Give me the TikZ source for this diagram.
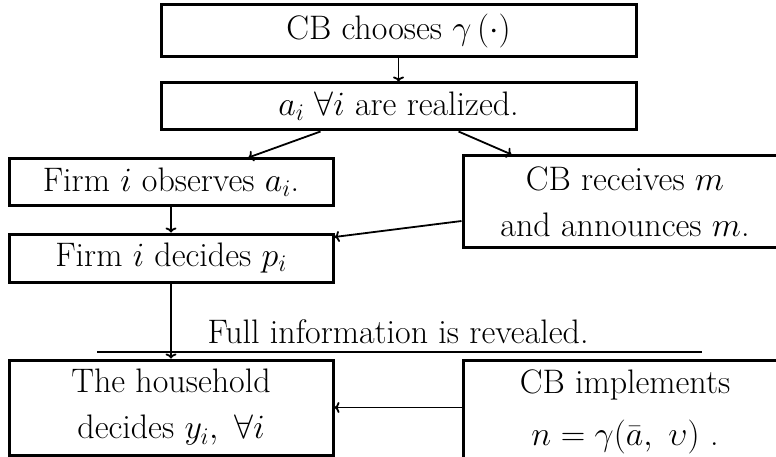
\RequirePackage{fix-cm}
\documentclass[tikz,border=0pt]{standalone}
\usetikzlibrary{arrows.meta,calc}
\newcommand{\bigfs}{\fontsize{34}{46}\selectfont}
\begin{document}
\begin{tikzpicture}[x=1pt,y=-1pt,
  stagebox/.style={draw,line width=3pt,inner sep=0pt,align=center,font=\bigfs},
  arr/.style={line width=1.8pt,-{To[length=5pt,width=11pt]}},
  rule/.style={line width=1.8pt}]
\useasboundingbox (0,0) rectangle (776,457);
\node[stagebox,minimum width=475,minimum height=52] (top) at (398.5,31) {CB chooses $\gamma\left(\cdot\right)$};
\node[stagebox,minimum width=475,minimum height=47] (real) at (398.5,106.5) {$a_{i}$ $\forall i$ are realized.};
\node[stagebox,minimum width=324,minimum height=47] (obs) at (171,182.5) {Firm $i$ observes $a_{i}$.};
\node[stagebox,minimum width=324,minimum height=48] (dec) at (171,258) {Firm $i$ decides $p_{i}$};
\node[stagebox,minimum width=324,minimum height=91] (recv) at (625,201.5) {CB receives $m$\\and announces $m$.};
\node[stagebox,minimum width=324,minimum height=95] (house) at (171,407.5) {The household\\decides $y_{i},\ \forall i$};
\node[stagebox,minimum width=324,minimum height=104] (impl) at (625,412) {CB implements\\[6pt]$n=\gamma(\bar{a},\ \upsilon)$ .};
\coordinate (fl) at (97,352);
\coordinate (fr) at (702,352);
\node[font=\bigfs,anchor=base,inner sep=0pt] (full) at (398,343) {Full information is revealed.};
\draw[arr] (top) -- (real);
\draw[arr] ($(real.south west)+(161,0)$) -- ($(obs.north west)+(241,0)$);
\draw[arr] ($(real.south west)+(299,0)$) -- ($(recv.north west)+(50,0)$);
\draw[arr] (obs) -- (dec);
\draw[arr] ($(recv.west)+(0,19.5)$) -- ($(dec.east)+(0,-21)$);
\draw[arr] (dec) -- (house);
\draw[rule] (fl) -- (fr);
\draw[arr] (house.east -| impl.west) -- (house.east);
\end{tikzpicture}
\end{document}
